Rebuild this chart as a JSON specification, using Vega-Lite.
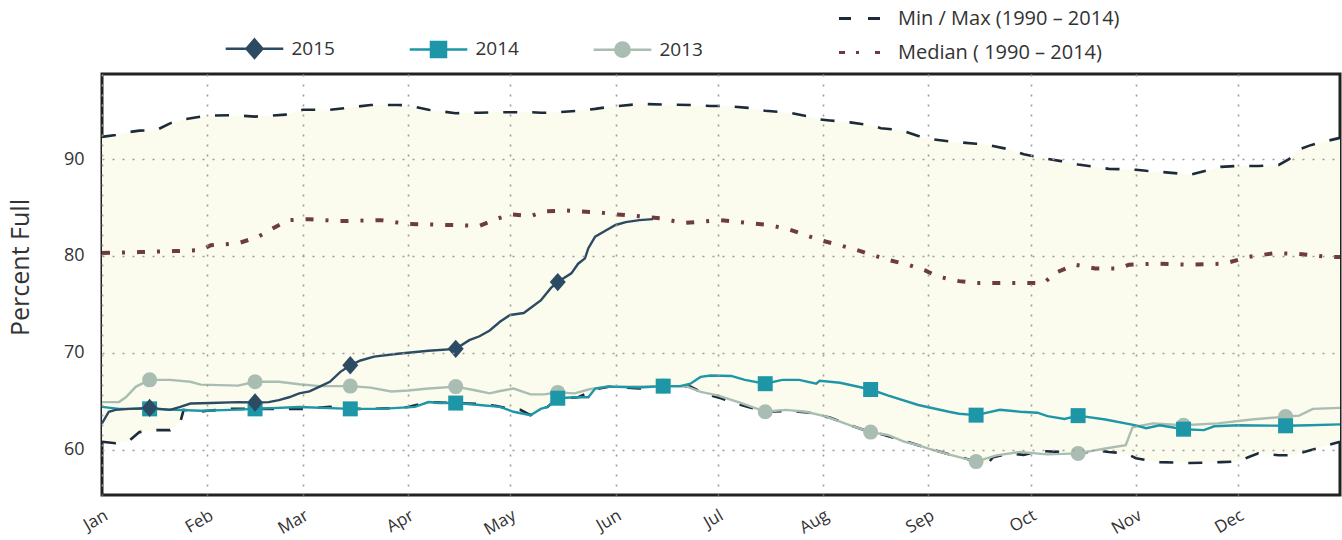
{
  "$schema": "https://vega.github.io/schema/vega-lite/v6.json",
  "width": 1238,
  "height": 421,
  "autosize": "none",
  "padding": {"left": 102, "top": 74, "right": 2, "bottom": 45},
  "background": "#ffffff",
  "config": {
    "font": "Open Sans",
    "view": {"stroke": "#222222", "strokeWidth": 3},
    "axis": {"domain": false, "ticks": false, "labelFont": "Open Sans", "labelColor": "#333333", "titleFont": "Open Sans", "titleColor": "#333333", "titleFontWeight": "normal", "grid": true, "gridColor": "#9c9c9c", "gridDash": [2, 8], "gridWidth": 1.6, "zindex": 1},
    "legend": {"labelFont": "Open Sans", "labelColor": "#333333", "labelFontSize": 19, "labelLimit": 400, "padding": 0}
  },
  "datasets": {
    "band": [
      {"date": "2015-01-01", "min": 60.8, "max": 92.3},
      {"date": "2015-01-05", "min": 60.65, "max": 92.5},
      {"date": "2015-01-09", "min": 60.9, "max": 92.8},
      {"date": "2015-01-12", "min": 61.8, "max": 92.95},
      {"date": "2015-01-17", "min": 62.0, "max": 93.0},
      {"date": "2015-01-21", "min": 62.0, "max": 93.7},
      {"date": "2015-01-24", "min": 62.8, "max": 94.0},
      {"date": "2015-01-25", "min": 64.1, "max": 94.1},
      {"date": "2015-01-30", "min": 63.9, "max": 94.4},
      {"date": "2015-02-01", "min": 64.0, "max": 94.5},
      {"date": "2015-02-08", "min": 64.2, "max": 94.55},
      {"date": "2015-02-15", "min": 64.2, "max": 94.4},
      {"date": "2015-02-24", "min": 64.2, "max": 94.6},
      {"date": "2015-02-27", "min": 64.2, "max": 94.9},
      {"date": "2015-03-01", "min": 64.2, "max": 95.1},
      {"date": "2015-03-09", "min": 64.4, "max": 95.1},
      {"date": "2015-03-14", "min": 64.2, "max": 95.3},
      {"date": "2015-03-21", "min": 64.2, "max": 95.6},
      {"date": "2015-03-29", "min": 64.3, "max": 95.6},
      {"date": "2015-04-01", "min": 64.4, "max": 95.55},
      {"date": "2015-04-07", "min": 64.9, "max": 95.1},
      {"date": "2015-04-15", "min": 64.8, "max": 94.75},
      {"date": "2015-04-22", "min": 64.7, "max": 94.8},
      {"date": "2015-04-27", "min": 64.5, "max": 94.85},
      {"date": "2015-05-01", "min": 64.2, "max": 94.85},
      {"date": "2015-05-04", "min": 64.1, "max": 94.85},
      {"date": "2015-05-07", "min": 63.55, "max": 94.85},
      {"date": "2015-05-10", "min": 64.2, "max": 94.8},
      {"date": "2015-05-12", "min": 64.4, "max": 94.8},
      {"date": "2015-05-15", "min": 65.3, "max": 94.85},
      {"date": "2015-05-21", "min": 65.4, "max": 95.0},
      {"date": "2015-05-26", "min": 66.2, "max": 95.2},
      {"date": "2015-05-30", "min": 66.5, "max": 95.4},
      {"date": "2015-06-08", "min": 66.3, "max": 95.7},
      {"date": "2015-06-15", "min": 66.5, "max": 95.65},
      {"date": "2015-06-23", "min": 66.5, "max": 95.6},
      {"date": "2015-06-26", "min": 65.95, "max": 95.55},
      {"date": "2015-06-29", "min": 65.6, "max": 95.5},
      {"date": "2015-07-02", "min": 65.3, "max": 95.5},
      {"date": "2015-07-05", "min": 64.9, "max": 95.45},
      {"date": "2015-07-10", "min": 64.4, "max": 95.3},
      {"date": "2015-07-15", "min": 63.9, "max": 95.0},
      {"date": "2015-07-22", "min": 64.0, "max": 94.8},
      {"date": "2015-07-28", "min": 63.8, "max": 94.4},
      {"date": "2015-07-31", "min": 63.5, "max": 94.1},
      {"date": "2015-08-03", "min": 63.3, "max": 94.0},
      {"date": "2015-08-09", "min": 62.5, "max": 93.8},
      {"date": "2015-08-15", "min": 61.8, "max": 93.5},
      {"date": "2015-08-18", "min": 61.6, "max": 93.2},
      {"date": "2015-08-24", "min": 61.0, "max": 93.0},
      {"date": "2015-08-29", "min": 60.45, "max": 92.4},
      {"date": "2015-09-01", "min": 60.1, "max": 92.1},
      {"date": "2015-09-07", "min": 59.5, "max": 91.85},
      {"date": "2015-09-10", "min": 59.3, "max": 91.75},
      {"date": "2015-09-15", "min": 58.7, "max": 91.6},
      {"date": "2015-09-18", "min": 58.4, "max": 91.5},
      {"date": "2015-09-20", "min": 59.2, "max": 91.35},
      {"date": "2015-09-25", "min": 59.6, "max": 91.0},
      {"date": "2015-09-29", "min": 59.45, "max": 90.5},
      {"date": "2015-10-04", "min": 59.85, "max": 90.15},
      {"date": "2015-10-10", "min": 59.75, "max": 89.8},
      {"date": "2015-10-15", "min": 59.6, "max": 89.45},
      {"date": "2015-10-21", "min": 59.9, "max": 89.15},
      {"date": "2015-10-24", "min": 59.75, "max": 89.0},
      {"date": "2015-10-29", "min": 59.6, "max": 88.95},
      {"date": "2015-11-01", "min": 59.1, "max": 88.9},
      {"date": "2015-11-04", "min": 58.9, "max": 88.8},
      {"date": "2015-11-08", "min": 58.7, "max": 88.7},
      {"date": "2015-11-17", "min": 58.6, "max": 88.4},
      {"date": "2015-11-26", "min": 58.7, "max": 89.2},
      {"date": "2015-12-01", "min": 58.75, "max": 89.3},
      {"date": "2015-12-04", "min": 59.2, "max": 89.3},
      {"date": "2015-12-07", "min": 59.6, "max": 89.3},
      {"date": "2015-12-13", "min": 59.4, "max": 89.4},
      {"date": "2015-12-16", "min": 59.4, "max": 90.0},
      {"date": "2015-12-19", "min": 59.6, "max": 91.0},
      {"date": "2015-12-22", "min": 59.9, "max": 91.4},
      {"date": "2015-12-25", "min": 60.2, "max": 91.7},
      {"date": "2015-12-31", "min": 60.8, "max": 92.2}
    ],
    "median": [
      {"date": "2015-01-01", "median": 80.3},
      {"date": "2015-01-12", "median": 80.4},
      {"date": "2015-01-22", "median": 80.5},
      {"date": "2015-01-30", "median": 80.6},
      {"date": "2015-02-02", "median": 81.1},
      {"date": "2015-02-10", "median": 81.3},
      {"date": "2015-02-16", "median": 82.0},
      {"date": "2015-02-21", "median": 83.0},
      {"date": "2015-02-25", "median": 83.7},
      {"date": "2015-03-03", "median": 83.8},
      {"date": "2015-03-12", "median": 83.6},
      {"date": "2015-03-24", "median": 83.7},
      {"date": "2015-04-01", "median": 83.3},
      {"date": "2015-04-13", "median": 83.2},
      {"date": "2015-04-22", "median": 83.1},
      {"date": "2015-04-26", "median": 83.7},
      {"date": "2015-05-01", "median": 84.3},
      {"date": "2015-05-07", "median": 84.1},
      {"date": "2015-05-11", "median": 84.6},
      {"date": "2015-05-17", "median": 84.7},
      {"date": "2015-05-27", "median": 84.5},
      {"date": "2015-06-01", "median": 84.3},
      {"date": "2015-06-08", "median": 84.1},
      {"date": "2015-06-14", "median": 83.9},
      {"date": "2015-06-21", "median": 83.4},
      {"date": "2015-07-02", "median": 83.7},
      {"date": "2015-07-10", "median": 83.4},
      {"date": "2015-07-16", "median": 83.2},
      {"date": "2015-07-22", "median": 82.75},
      {"date": "2015-07-31", "median": 81.65},
      {"date": "2015-08-06", "median": 81.1},
      {"date": "2015-08-12", "median": 80.5},
      {"date": "2015-08-20", "median": 79.6},
      {"date": "2015-08-26", "median": 79.1},
      {"date": "2015-08-31", "median": 78.5},
      {"date": "2015-09-04", "median": 77.85},
      {"date": "2015-09-10", "median": 77.4},
      {"date": "2015-09-15", "median": 77.2},
      {"date": "2015-09-22", "median": 77.2},
      {"date": "2015-10-01", "median": 77.2},
      {"date": "2015-10-05", "median": 77.2},
      {"date": "2015-10-08", "median": 78.2},
      {"date": "2015-10-14", "median": 79.1},
      {"date": "2015-10-20", "median": 78.7},
      {"date": "2015-10-27", "median": 78.7},
      {"date": "2015-10-30", "median": 79.1},
      {"date": "2015-11-07", "median": 79.2},
      {"date": "2015-11-17", "median": 79.1},
      {"date": "2015-11-27", "median": 79.2},
      {"date": "2015-12-04", "median": 79.9},
      {"date": "2015-12-12", "median": 80.3},
      {"date": "2015-12-19", "median": 80.2},
      {"date": "2015-12-28", "median": 79.9},
      {"date": "2015-12-31", "median": 79.9}
    ],
    "years": [
      {"date": "2015-01-01", "series": "2013", "value": 64.9},
      {"date": "2015-01-06", "series": "2013", "value": 64.9},
      {"date": "2015-01-08", "series": "2013", "value": 65.4},
      {"date": "2015-01-11", "series": "2013", "value": 66.5},
      {"date": "2015-01-15", "series": "2013", "value": 67.2},
      {"date": "2015-01-21", "series": "2013", "value": 67.2},
      {"date": "2015-01-27", "series": "2013", "value": 67.0},
      {"date": "2015-01-30", "series": "2013", "value": 66.7},
      {"date": "2015-02-10", "series": "2013", "value": 66.6},
      {"date": "2015-02-15", "series": "2013", "value": 67.0},
      {"date": "2015-02-22", "series": "2013", "value": 67.0},
      {"date": "2015-02-28", "series": "2013", "value": 66.75},
      {"date": "2015-03-06", "series": "2013", "value": 66.55},
      {"date": "2015-03-15", "series": "2013", "value": 66.55},
      {"date": "2015-03-21", "series": "2013", "value": 66.4},
      {"date": "2015-03-27", "series": "2013", "value": 66.0},
      {"date": "2015-04-01", "series": "2013", "value": 66.1},
      {"date": "2015-04-07", "series": "2013", "value": 66.3},
      {"date": "2015-04-15", "series": "2013", "value": 66.5},
      {"date": "2015-04-21", "series": "2013", "value": 66.1},
      {"date": "2015-04-25", "series": "2013", "value": 65.8},
      {"date": "2015-04-28", "series": "2013", "value": 66.05},
      {"date": "2015-05-02", "series": "2013", "value": 66.3},
      {"date": "2015-05-07", "series": "2013", "value": 65.7},
      {"date": "2015-05-11", "series": "2013", "value": 65.7},
      {"date": "2015-05-15", "series": "2013", "value": 65.9},
      {"date": "2015-05-20", "series": "2013", "value": 65.8},
      {"date": "2015-05-24", "series": "2013", "value": 66.2},
      {"date": "2015-05-29", "series": "2013", "value": 66.5},
      {"date": "2015-06-05", "series": "2013", "value": 66.5},
      {"date": "2015-06-15", "series": "2013", "value": 66.55},
      {"date": "2015-06-22", "series": "2013", "value": 66.5},
      {"date": "2015-06-26", "series": "2013", "value": 65.95},
      {"date": "2015-07-01", "series": "2013", "value": 65.6},
      {"date": "2015-07-08", "series": "2013", "value": 64.8},
      {"date": "2015-07-15", "series": "2013", "value": 63.9},
      {"date": "2015-07-21", "series": "2013", "value": 64.1},
      {"date": "2015-07-27", "series": "2013", "value": 63.9},
      {"date": "2015-08-02", "series": "2013", "value": 63.4},
      {"date": "2015-08-09", "series": "2013", "value": 62.5},
      {"date": "2015-08-15", "series": "2013", "value": 61.8},
      {"date": "2015-08-20", "series": "2013", "value": 61.5},
      {"date": "2015-08-25", "series": "2013", "value": 60.8},
      {"date": "2015-08-29", "series": "2013", "value": 60.45},
      {"date": "2015-09-01", "series": "2013", "value": 60.1},
      {"date": "2015-09-08", "series": "2013", "value": 59.4},
      {"date": "2015-09-15", "series": "2013", "value": 58.75},
      {"date": "2015-09-21", "series": "2013", "value": 59.4},
      {"date": "2015-09-28", "series": "2013", "value": 59.75},
      {"date": "2015-10-06", "series": "2013", "value": 59.5},
      {"date": "2015-10-15", "series": "2013", "value": 59.6},
      {"date": "2015-10-23", "series": "2013", "value": 60.1},
      {"date": "2015-10-29", "series": "2013", "value": 60.45},
      {"date": "2015-10-31", "series": "2013", "value": 62.3},
      {"date": "2015-11-06", "series": "2013", "value": 62.7},
      {"date": "2015-11-15", "series": "2013", "value": 62.5},
      {"date": "2015-11-25", "series": "2013", "value": 62.7},
      {"date": "2015-12-05", "series": "2013", "value": 63.1},
      {"date": "2015-12-15", "series": "2013", "value": 63.4},
      {"date": "2015-12-19", "series": "2013", "value": 63.5},
      {"date": "2015-12-23", "series": "2013", "value": 64.2},
      {"date": "2015-12-31", "series": "2013", "value": 64.3},
      {"date": "2015-01-01", "series": "2014", "value": 64.4},
      {"date": "2015-01-06", "series": "2014", "value": 64.2},
      {"date": "2015-01-15", "series": "2014", "value": 64.2},
      {"date": "2015-01-30", "series": "2014", "value": 64.0},
      {"date": "2015-02-08", "series": "2014", "value": 64.1},
      {"date": "2015-02-15", "series": "2014", "value": 64.2},
      {"date": "2015-02-28", "series": "2014", "value": 64.4},
      {"date": "2015-03-15", "series": "2014", "value": 64.2},
      {"date": "2015-03-24", "series": "2014", "value": 64.2},
      {"date": "2015-04-03", "series": "2014", "value": 64.4},
      {"date": "2015-04-07", "series": "2014", "value": 64.9},
      {"date": "2015-04-10", "series": "2014", "value": 64.8},
      {"date": "2015-04-15", "series": "2014", "value": 64.8},
      {"date": "2015-04-22", "series": "2014", "value": 64.6},
      {"date": "2015-04-28", "series": "2014", "value": 64.4},
      {"date": "2015-05-02", "series": "2014", "value": 63.9},
      {"date": "2015-05-07", "series": "2014", "value": 63.55},
      {"date": "2015-05-10", "series": "2014", "value": 64.2},
      {"date": "2015-05-12", "series": "2014", "value": 64.4},
      {"date": "2015-05-15", "series": "2014", "value": 65.3},
      {"date": "2015-05-20", "series": "2014", "value": 65.4},
      {"date": "2015-05-24", "series": "2014", "value": 65.4},
      {"date": "2015-05-26", "series": "2014", "value": 66.3},
      {"date": "2015-05-30", "series": "2014", "value": 66.5},
      {"date": "2015-06-08", "series": "2014", "value": 66.4},
      {"date": "2015-06-15", "series": "2014", "value": 66.55},
      {"date": "2015-06-20", "series": "2014", "value": 66.55},
      {"date": "2015-06-23", "series": "2014", "value": 66.8},
      {"date": "2015-06-26", "series": "2014", "value": 67.5},
      {"date": "2015-06-29", "series": "2014", "value": 67.65},
      {"date": "2015-07-05", "series": "2014", "value": 67.6},
      {"date": "2015-07-09", "series": "2014", "value": 67.2},
      {"date": "2015-07-15", "series": "2014", "value": 66.8},
      {"date": "2015-07-20", "series": "2014", "value": 67.2},
      {"date": "2015-07-25", "series": "2014", "value": 67.2},
      {"date": "2015-07-30", "series": "2014", "value": 66.8},
      {"date": "2015-07-31", "series": "2014", "value": 67.1},
      {"date": "2015-08-06", "series": "2014", "value": 66.9},
      {"date": "2015-08-15", "series": "2014", "value": 66.2},
      {"date": "2015-08-20", "series": "2014", "value": 65.6},
      {"date": "2015-08-29", "series": "2014", "value": 64.6},
      {"date": "2015-09-07", "series": "2014", "value": 63.9},
      {"date": "2015-09-10", "series": "2014", "value": 63.7},
      {"date": "2015-09-15", "series": "2014", "value": 63.55},
      {"date": "2015-09-22", "series": "2014", "value": 64.1},
      {"date": "2015-09-28", "series": "2014", "value": 63.9},
      {"date": "2015-10-03", "series": "2014", "value": 63.8},
      {"date": "2015-10-06", "series": "2014", "value": 63.45},
      {"date": "2015-10-11", "series": "2014", "value": 63.15},
      {"date": "2015-10-15", "series": "2014", "value": 63.5},
      {"date": "2015-10-23", "series": "2014", "value": 63.1},
      {"date": "2015-11-01", "series": "2014", "value": 62.5},
      {"date": "2015-11-04", "series": "2014", "value": 62.2},
      {"date": "2015-11-08", "series": "2014", "value": 62.5},
      {"date": "2015-11-15", "series": "2014", "value": 62.1},
      {"date": "2015-11-21", "series": "2014", "value": 62.0},
      {"date": "2015-11-24", "series": "2014", "value": 62.4},
      {"date": "2015-12-01", "series": "2014", "value": 62.5},
      {"date": "2015-12-15", "series": "2014", "value": 62.45},
      {"date": "2015-12-22", "series": "2014", "value": 62.5},
      {"date": "2015-12-31", "series": "2014", "value": 62.6},
      {"date": "2015-01-01", "series": "2015", "value": 62.7},
      {"date": "2015-01-03", "series": "2015", "value": 63.9},
      {"date": "2015-01-05", "series": "2015", "value": 64.1},
      {"date": "2015-01-09", "series": "2015", "value": 64.2},
      {"date": "2015-01-15", "series": "2015", "value": 64.3},
      {"date": "2015-01-21", "series": "2015", "value": 64.1},
      {"date": "2015-01-24", "series": "2015", "value": 64.4},
      {"date": "2015-01-27", "series": "2015", "value": 64.75},
      {"date": "2015-02-02", "series": "2015", "value": 64.8},
      {"date": "2015-02-10", "series": "2015", "value": 64.9},
      {"date": "2015-02-15", "series": "2015", "value": 64.85},
      {"date": "2015-02-19", "series": "2015", "value": 64.9},
      {"date": "2015-02-22", "series": "2015", "value": 65.1},
      {"date": "2015-02-25", "series": "2015", "value": 65.4},
      {"date": "2015-02-28", "series": "2015", "value": 65.8},
      {"date": "2015-03-03", "series": "2015", "value": 66.0},
      {"date": "2015-03-06", "series": "2015", "value": 66.5},
      {"date": "2015-03-09", "series": "2015", "value": 67.0},
      {"date": "2015-03-12", "series": "2015", "value": 68.0},
      {"date": "2015-03-15", "series": "2015", "value": 68.7},
      {"date": "2015-03-18", "series": "2015", "value": 69.2},
      {"date": "2015-03-22", "series": "2015", "value": 69.6},
      {"date": "2015-03-29", "series": "2015", "value": 69.9},
      {"date": "2015-04-07", "series": "2015", "value": 70.2},
      {"date": "2015-04-15", "series": "2015", "value": 70.4},
      {"date": "2015-04-19", "series": "2015", "value": 71.3},
      {"date": "2015-04-22", "series": "2015", "value": 71.7},
      {"date": "2015-04-25", "series": "2015", "value": 72.3},
      {"date": "2015-04-28", "series": "2015", "value": 73.2},
      {"date": "2015-05-01", "series": "2015", "value": 73.9},
      {"date": "2015-05-05", "series": "2015", "value": 74.1},
      {"date": "2015-05-10", "series": "2015", "value": 75.4},
      {"date": "2015-05-13", "series": "2015", "value": 76.7},
      {"date": "2015-05-15", "series": "2015", "value": 77.3},
      {"date": "2015-05-19", "series": "2015", "value": 78.2},
      {"date": "2015-05-21", "series": "2015", "value": 79.2},
      {"date": "2015-05-23", "series": "2015", "value": 79.75},
      {"date": "2015-05-24", "series": "2015", "value": 80.8},
      {"date": "2015-05-26", "series": "2015", "value": 82.0},
      {"date": "2015-05-29", "series": "2015", "value": 82.6},
      {"date": "2015-06-01", "series": "2015", "value": 83.2},
      {"date": "2015-06-04", "series": "2015", "value": 83.5},
      {"date": "2015-06-08", "series": "2015", "value": 83.7},
      {"date": "2015-06-12", "series": "2015", "value": 83.8}
    ]
  },
  "encoding": {
    "x": {
      "field": "date",
      "type": "temporal",
      "title": null,
      "scale": {"type": "utc", "domain": [{"year": 2015, "month": 1, "date": 1, "utc": true}, {"year": 2015, "month": 12, "date": 31, "utc": true}]},
      "axis": {
        "values": [
          {"year": 2015, "month": 1, "date": 1, "utc": true},
          {"year": 2015, "month": 2, "date": 1, "utc": true},
          {"year": 2015, "month": 3, "date": 1, "utc": true},
          {"year": 2015, "month": 4, "date": 1, "utc": true},
          {"year": 2015, "month": 5, "date": 1, "utc": true},
          {"year": 2015, "month": 6, "date": 1, "utc": true},
          {"year": 2015, "month": 7, "date": 1, "utc": true},
          {"year": 2015, "month": 8, "date": 1, "utc": true},
          {"year": 2015, "month": 9, "date": 1, "utc": true},
          {"year": 2015, "month": 10, "date": 1, "utc": true},
          {"year": 2015, "month": 11, "date": 1, "utc": true},
          {"year": 2015, "month": 12, "date": 1, "utc": true}
        ],
        "format": "%b",
        "zindex": 1,
        "labelAngle": -30,
        "labelAlign": "right",
        "labelBaseline": "top",
        "labelFontSize": 17,
        "labelPadding": 12,
        "labelOverlap": false,
        "labelBound": false,
        "labelFlush": false
      }
    }
  },
  "layer": [
    {
      "data": {"name": "band", "format": {"parse": {"date": "date"}}},
      "mark": {"type": "area", "color": "#fbfcee"},
      "encoding": {
        "y": {
          "field": "min", "type": "quantitative", "title": "Percent Full",
          "scale": {"domain": [55.3, 98.8], "nice": false, "zero": false},
          "axis": {"values": [60, 70, 80, 90], "zindex": 1, "labelFontSize": 18, "labelPadding": 18, "titleFontSize": 25, "titlePadding": 30, "titleY": 193}
        },
        "y2": {"field": "max"}
      }
    },
    {
      "data": {"name": "band", "format": {"parse": {"date": "date"}}},
      "mark": {"type": "line", "strokeDash": [14, 15], "strokeWidth": 2.6},
      "encoding": {
        "y": {"field": "max", "type": "quantitative", "title": "Percent Full"},
        "stroke": {
          "datum": "Min / Max (1990 – 2014)", "type": "nominal",
          "scale": {"domain": ["Min / Max (1990 – 2014)", "Median ( 1990 – 2014)"], "range": ["#1c2a3a", "#6e3b40"]},
          "legend": {
            "title": null, "orient": "none", "legendX": 735, "legendY": -78, "direction": "vertical",
            "symbolType": "stroke", "symbolSize": 1681, "symbolStrokeWidth": 3.2, "symbolOffset": 0,
            "labelOffset": 16, "rowPadding": 1, "labelFontSize": 20,
            "encode": {
              "symbols": {
                "update": {
                  "strokeDash": {"signal": "indexof(datum.value, 'Median') === 0 ? [6,11,3,16] : [12,17]"}
                }
              }
            }
          }
        }
      }
    },
    {
      "data": {"name": "band", "format": {"parse": {"date": "date"}}},
      "mark": {"type": "line", "strokeDash": [14, 15], "strokeWidth": 2.6},
      "encoding": {
        "y": {"field": "min", "type": "quantitative", "title": "Percent Full"},
        "stroke": {
          "datum": "Min / Max (1990 – 2014)", "type": "nominal",
          "scale": {"domain": ["Min / Max (1990 – 2014)", "Median ( 1990 – 2014)"], "range": ["#1c2a3a", "#6e3b40"]}
        }
      }
    },
    {
      "data": {"name": "median", "format": {"parse": {"date": "date"}}},
      "mark": {"type": "line", "strokeDash": [8, 12, 3, 12], "strokeWidth": 4},
      "encoding": {
        "y": {"field": "median", "type": "quantitative", "title": "Percent Full"},
        "stroke": {
          "datum": "Median ( 1990 – 2014)", "type": "nominal",
          "scale": {"domain": ["Min / Max (1990 – 2014)", "Median ( 1990 – 2014)"], "range": ["#1c2a3a", "#6e3b40"]}
        }
      }
    },
    {
      "data": {"name": "years", "format": {"parse": {"date": "date"}}},
      "mark": {"type": "line", "strokeWidth": 2.4},
      "encoding": {
        "y": {"field": "value", "type": "quantitative", "title": "Percent Full"},
        "color": {
          "field": "series", "type": "nominal",
          "scale": {"domain": ["2015", "2014", "2013"], "range": ["#2c4b63", "#1d97a7", "#a9bdb2"]},
          "legend": {
            "title": null, "orient": "none", "legendX": 143, "legendY": -35, "direction": "horizontal",
            "symbolSize": 256, "symbolStrokeWidth": 2.5, "symbolOffset": 0, "labelOffset": 27.5, "columnPadding": 69,
            "encode": {
              "symbols": {
                "update": {
                  "shape": {"signal": "datum.value === '2015' ? 'M-3.6,0H3.6M0,-1.15L1,0L0,1.15L-1,0Z' : datum.value === '2014' ? 'M-3.6,0H3.6M-0.94,-0.94H0.94V0.94H-0.94Z' : 'M-3.6,0H3.6M-0.9,0A0.9,0.9 0 1,0 0.9,0A0.9,0.9 0 1,0 -0.9,0Z'"},
                  "fill": {"scale": "color", "field": "value"},
                  "stroke": {"scale": "color", "field": "value"},
                  "opacity": {"value": 1}
                }
              }
            }
          }
        }
      }
    },
    {
      "data": {"name": "years", "format": {"parse": {"date": "date"}}},
      "transform": [{"filter": "datum.series === '2013' && utcdate(datum.date) === 15"}],
      "mark": {"type": "point", "shape": "circle", "filled": true, "size": 225, "opacity": 1},
      "encoding": {
        "y": {"field": "value", "type": "quantitative", "title": "Percent Full"},
        "color": {"field": "series", "type": "nominal", "scale": {"domain": ["2015", "2014", "2013"], "range": ["#2c4b63", "#1d97a7", "#a9bdb2"]}}
      }
    },
    {
      "data": {"name": "years", "format": {"parse": {"date": "date"}}},
      "transform": [{"filter": "datum.series === '2014' && utcdate(datum.date) === 15"}],
      "mark": {"type": "point", "shape": "square", "filled": true, "size": 225, "opacity": 1},
      "encoding": {
        "y": {"field": "value", "type": "quantitative", "title": "Percent Full"},
        "color": {"field": "series", "type": "nominal", "scale": {"domain": ["2015", "2014", "2013"], "range": ["#2c4b63", "#1d97a7", "#a9bdb2"]}}
      }
    },
    {
      "data": {"name": "years", "format": {"parse": {"date": "date"}}},
      "transform": [{"filter": "datum.series === '2015' && utcdate(datum.date) === 15"}],
      "mark": {"type": "point", "shape": "M0,-1.15L1,0L0,1.15L-1,0Z", "filled": true, "size": 256, "opacity": 1},
      "encoding": {
        "y": {"field": "value", "type": "quantitative", "title": "Percent Full"},
        "color": {"field": "series", "type": "nominal", "scale": {"domain": ["2015", "2014", "2013"], "range": ["#2c4b63", "#1d97a7", "#a9bdb2"]}}
      }
    }
  ]
}
